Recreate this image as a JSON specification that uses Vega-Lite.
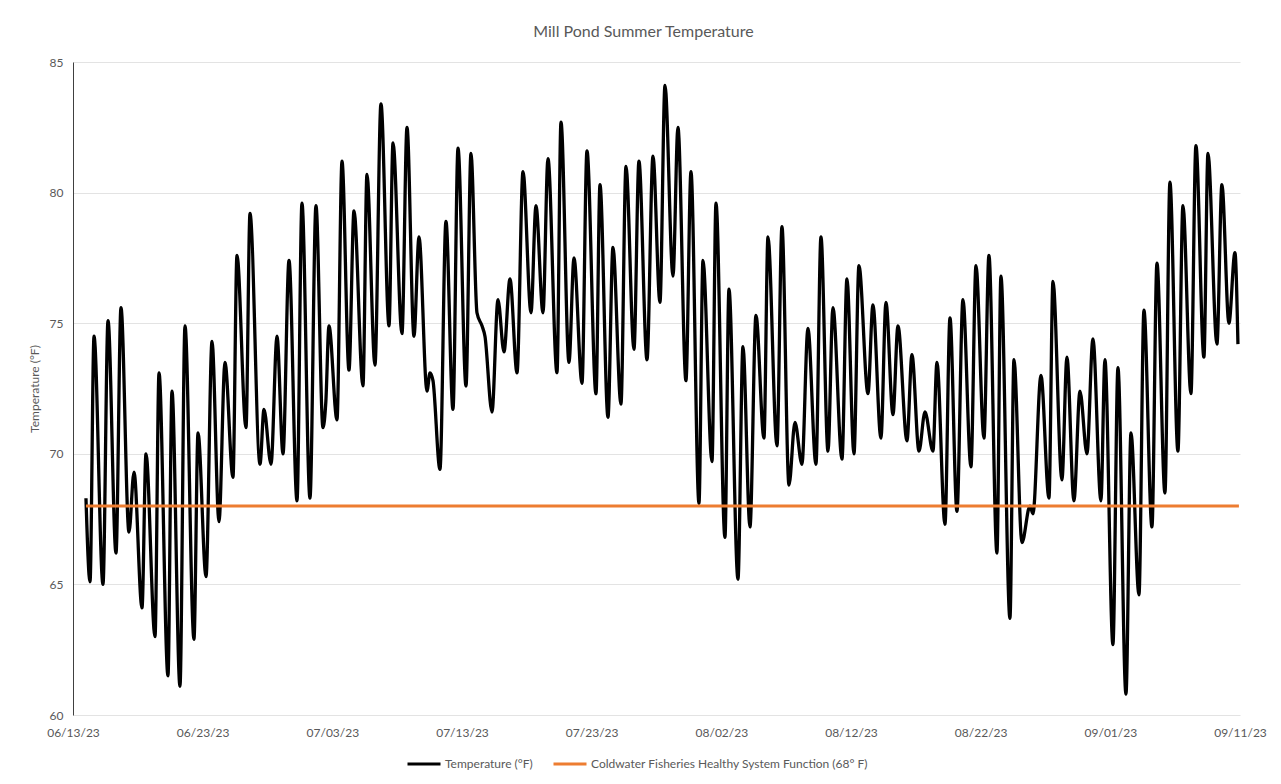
{
  "$schema": "https://vega.github.io/schema/vega-lite/v6.json",
  "width": 1167,
  "height": 653,
  "autosize": {"type": "none"},
  "padding": {"left": 73, "top": 62, "right": 41, "bottom": 69},
  "background": "white",
  "title": {"text": "Mill Pond Summer Temperature", "font": "Lato", "fontSize": 16, "fontWeight": "normal", "color": "#595959", "anchor": "middle", "offset": 16, "dx": -13},
  "config": {
    "view": {"stroke": null},
    "axis": {"labelFont": "Lato", "titleFont": "Lato", "labelColor": "#595959", "titleColor": "#595959"},
    "legend": {"labelFont": "Lato"}
  },
  "datasets": {
    "temp": [
      {"t":"2023-06-14T00:00","v":68.3},{"t":"2023-06-14T07:30","v":65.1},{"t":"2023-06-14T14:54","v":74.5},
      {"t":"2023-06-15T07:30","v":65.0},{"t":"2023-06-15T16:48","v":75.1},{"t":"2023-06-16T07:36","v":66.2},
      {"t":"2023-06-16T16:48","v":75.6},{"t":"2023-06-17T07:36","v":67.0},{"t":"2023-06-17T16:54","v":69.3},
      {"t":"2023-06-18T07:42","v":64.1},{"t":"2023-06-18T15:06","v":70.0},{"t":"2023-06-19T07:48","v":63.0},
      {"t":"2023-06-19T15:12","v":73.1},{"t":"2023-06-20T07:48","v":61.5},{"t":"2023-06-20T15:12","v":72.4},
      {"t":"2023-06-21T06:00","v":61.1},{"t":"2023-06-21T15:18","v":74.9},{"t":"2023-06-22T07:54","v":62.9},
      {"t":"2023-06-22T15:24","v":70.8},{"t":"2023-06-23T06:12","v":65.3},{"t":"2023-06-23T17:18","v":74.3},
      {"t":"2023-06-24T06:12","v":67.4},{"t":"2023-06-24T17:18","v":73.5},{"t":"2023-06-25T08:06","v":69.1},
      {"t":"2023-06-25T15:30","v":77.6},{"t":"2023-06-26T08:12","v":71.0},{"t":"2023-06-26T15:36","v":79.2},
      {"t":"2023-06-27T10:06","v":69.6},{"t":"2023-06-27T17:30","v":71.7},{"t":"2023-06-28T06:30","v":69.6},
      {"t":"2023-06-28T17:36","v":74.5},{"t":"2023-06-29T04:42","v":70.0},{"t":"2023-06-29T15:48","v":77.4},
      {"t":"2023-06-30T06:36","v":68.2},{"t":"2023-06-30T15:48","v":79.6},{"t":"2023-07-01T06:36","v":68.3},
      {"t":"2023-07-01T17:42","v":79.5},{"t":"2023-07-02T06:42","v":71.0},{"t":"2023-07-02T12:00","v":72.0},
      {"t":"2023-07-02T17:48","v":74.9},{"t":"2023-07-03T08:36","v":71.3},{"t":"2023-07-03T17:54","v":81.2},
      {"t":"2023-07-04T06:48","v":73.2},{"t":"2023-07-04T16:06","v":79.3},{"t":"2023-07-05T08:42","v":72.6},
      {"t":"2023-07-05T16:06","v":80.7},{"t":"2023-07-06T06:54","v":73.4},{"t":"2023-07-06T18:00","v":83.4},
      {"t":"2023-07-07T08:54","v":74.9},{"t":"2023-07-07T16:18","v":81.9},{"t":"2023-07-08T08:54","v":74.6},
      {"t":"2023-07-08T18:12","v":82.5},{"t":"2023-07-09T07:06","v":74.5},{"t":"2023-07-09T16:24","v":78.3},
      {"t":"2023-07-10T07:12","v":72.4},{"t":"2023-07-10T12:42","v":73.1},{"t":"2023-07-10T18:18","v":72.8},
      {"t":"2023-07-11T07:12","v":69.4},{"t":"2023-07-11T18:18","v":78.9},{"t":"2023-07-12T07:18","v":71.7},
      {"t":"2023-07-12T16:36","v":81.7},{"t":"2023-07-13T07:24","v":72.6},{"t":"2023-07-13T16:36","v":81.5},
      {"t":"2023-07-14T03:42","v":75.4},{"t":"2023-07-14T13:00","v":74.9},{"t":"2023-07-14T18:30","v":74.5},
      {"t":"2023-07-15T07:30","v":71.6},{"t":"2023-07-15T18:36","v":75.9},{"t":"2023-07-16T05:42","v":73.9},
      {"t":"2023-07-16T16:48","v":76.7},{"t":"2023-07-17T05:48","v":73.1},{"t":"2023-07-17T16:54","v":80.8},
      {"t":"2023-07-18T07:42","v":75.4},{"t":"2023-07-18T16:54","v":79.5},{"t":"2023-07-19T05:54","v":75.4},
      {"t":"2023-07-19T15:06","v":81.3},{"t":"2023-07-20T07:48","v":73.1},{"t":"2023-07-20T15:12","v":82.7},
      {"t":"2023-07-21T06:00","v":73.5},{"t":"2023-07-21T15:18","v":77.5},{"t":"2023-07-22T06:06","v":72.7},
      {"t":"2023-07-22T15:18","v":81.6},{"t":"2023-07-23T08:00","v":72.3},{"t":"2023-07-23T15:24","v":80.3},
      {"t":"2023-07-24T06:12","v":71.4},{"t":"2023-07-24T15:24","v":77.9},{"t":"2023-07-25T06:12","v":71.9},
      {"t":"2023-07-25T15:30","v":81.0},{"t":"2023-07-26T06:18","v":74.0},{"t":"2023-07-26T15:30","v":81.2},
      {"t":"2023-07-27T06:24","v":73.6},{"t":"2023-07-27T17:30","v":81.4},{"t":"2023-07-28T06:24","v":75.8},
      {"t":"2023-07-28T15:42","v":84.1},{"t":"2023-07-29T06:30","v":76.8},{"t":"2023-07-29T15:42","v":82.5},
      {"t":"2023-07-30T06:30","v":72.8},{"t":"2023-07-30T15:48","v":80.8},{"t":"2023-07-31T06:36","v":68.1},
      {"t":"2023-07-31T14:00","v":77.4},{"t":"2023-08-01T06:42","v":69.7},{"t":"2023-08-01T14:06","v":79.6},
      {"t":"2023-08-02T06:42","v":66.8},{"t":"2023-08-02T14:06","v":76.3},{"t":"2023-08-03T06:48","v":65.2},
      {"t":"2023-08-03T16:00","v":74.1},{"t":"2023-08-04T05:00","v":67.2},{"t":"2023-08-04T16:06","v":75.3},
      {"t":"2023-08-05T06:54","v":70.6},{"t":"2023-08-05T14:18","v":78.3},{"t":"2023-08-06T07:00","v":70.3},
      {"t":"2023-08-06T16:12","v":78.7},{"t":"2023-08-07T05:12","v":68.8},{"t":"2023-08-07T16:18","v":71.2},
      {"t":"2023-08-08T05:12","v":69.6},{"t":"2023-08-08T16:18","v":74.8},{"t":"2023-08-09T07:06","v":69.6},
      {"t":"2023-08-09T16:24","v":78.3},{"t":"2023-08-10T05:24","v":70.1},{"t":"2023-08-10T14:36","v":75.6},
      {"t":"2023-08-11T07:18","v":69.8},{"t":"2023-08-11T16:30","v":76.7},{"t":"2023-08-12T05:30","v":70.0},
      {"t":"2023-08-12T14:42","v":77.2},{"t":"2023-08-13T07:24","v":72.3},{"t":"2023-08-13T16:36","v":75.7},
      {"t":"2023-08-14T07:24","v":70.6},{"t":"2023-08-14T16:42","v":75.8},{"t":"2023-08-15T05:42","v":71.5},
      {"t":"2023-08-15T14:54","v":74.9},{"t":"2023-08-16T07:36","v":70.5},{"t":"2023-08-16T16:48","v":73.8},
      {"t":"2023-08-17T05:48","v":70.1},{"t":"2023-08-17T16:54","v":71.6},{"t":"2023-08-18T07:42","v":70.1},
      {"t":"2023-08-18T15:06","v":73.5},{"t":"2023-08-19T05:54","v":67.3},{"t":"2023-08-19T15:12","v":75.2},
      {"t":"2023-08-20T04:06","v":67.8},{"t":"2023-08-20T15:12","v":75.9},{"t":"2023-08-21T06:00","v":69.5},
      {"t":"2023-08-21T15:18","v":77.2},{"t":"2023-08-22T06:06","v":70.6},{"t":"2023-08-22T15:18","v":77.6},
      {"t":"2023-08-23T06:06","v":66.2},{"t":"2023-08-23T13:30","v":76.8},{"t":"2023-08-24T06:12","v":63.7},
      {"t":"2023-08-24T13:36","v":73.6},{"t":"2023-08-25T04:24","v":66.6},{"t":"2023-08-25T19:12","v":68.0},
      {"t":"2023-08-26T00:48","v":67.7},{"t":"2023-08-26T15:36","v":73.0},{"t":"2023-08-27T06:24","v":68.3},
      {"t":"2023-08-27T13:48","v":76.6},{"t":"2023-08-28T06:24","v":69.0},{"t":"2023-08-28T15:42","v":73.7},
      {"t":"2023-08-29T04:36","v":68.2},{"t":"2023-08-29T15:48","v":72.4},{"t":"2023-08-30T04:42","v":70.0},
      {"t":"2023-08-30T15:48","v":74.4},{"t":"2023-08-31T06:36","v":68.2},{"t":"2023-08-31T14:00","v":73.6},
      {"t":"2023-09-01T04:48","v":62.7},{"t":"2023-09-01T14:06","v":73.3},{"t":"2023-09-02T04:54","v":60.8},
      {"t":"2023-09-02T14:12","v":70.8},{"t":"2023-09-03T05:00","v":64.6},{"t":"2023-09-03T14:12","v":75.5},
      {"t":"2023-09-04T05:00","v":67.2},{"t":"2023-09-04T14:18","v":77.3},{"t":"2023-09-05T05:06","v":68.5},
      {"t":"2023-09-05T14:18","v":80.4},{"t":"2023-09-06T05:06","v":70.1},{"t":"2023-09-06T14:24","v":79.5},
      {"t":"2023-09-07T05:12","v":72.3},{"t":"2023-09-07T14:24","v":81.8},{"t":"2023-09-08T05:12","v":73.7},
      {"t":"2023-09-08T12:42","v":81.5},{"t":"2023-09-09T05:18","v":74.2},{"t":"2023-09-09T14:30","v":80.3},
      {"t":"2023-09-10T03:30","v":75.0},{"t":"2023-09-10T14:36","v":77.7},{"t":"2023-09-10T20:12","v":74.2}
    ],
    "threshold": [
      {"t":"2023-06-14T00:00","v":68},{"t":"2023-09-10T22:00","v":68}
    ]
  },
  "encoding": {
    "x": {
      "field": "t", "type": "temporal",
      "scale": {"domain": [{"year": 2023, "month": 6, "date": 13}, {"year": 2023, "month": 9, "date": 11}], "nice": false},
      "axis": {
        "title": null, "format": "%m/%d/%y", "labelFontSize": 12, "ticks": false, "domain": false, "grid": false,
        "labelPadding": 12, "labelOverlap": false, "labelFlush": false,
        "values": [
          {"year": 2023, "month": 6, "date": 13}, {"year": 2023, "month": 6, "date": 23},
          {"year": 2023, "month": 7, "date": 3}, {"year": 2023, "month": 7, "date": 13},
          {"year": 2023, "month": 7, "date": 23}, {"year": 2023, "month": 8, "date": 2},
          {"year": 2023, "month": 8, "date": 12}, {"year": 2023, "month": 8, "date": 22},
          {"year": 2023, "month": 9, "date": 1}, {"year": 2023, "month": 9, "date": 11}
        ]
      }
    },
    "y": {
      "field": "v", "type": "quantitative",
      "scale": {"domain": [60, 85], "nice": false, "zero": false},
      "axis": {
        "title": "Temperature (°F)", "titleFontSize": 12, "titleFontWeight": "normal", "titlePadding": 8,
        "values": [60, 65, 70, 75, 80, 85], "grid": true, "gridColor": "#E3E3E3", "gridWidth": 1,
        "domain": true, "domainColor": "#404040", "domainWidth": 1, "ticks": false,
        "labelPadding": 10, "labelFontSize": 12
      }
    }
  },
  "layer": [
    {
      "data": {"name": "temp"},
      "mark": {"type": "line", "interpolate": "monotone", "strokeWidth": 3.3},
      "encoding": {
        "color": {
          "datum": "Temperature (°F)",
          "scale": {"domain": ["Temperature (°F)", "Coldwater Fisheries Healthy System Function (68° F)"], "range": ["#000000", "#ED7D31"]},
          "legend": {
            "title": null, "orient": "none", "legendX": 333, "legendY": 684, "direction": "horizontal", "symbolType": "stroke",
            "symbolSize": 1089, "symbolStrokeWidth": 3, "labelFontSize": 12, "labelColor": "#595959",
            "columnPadding": 14, "labelOffset": 3, "labelLimit": 500
          }
        }
      }
    },
    {
      "data": {"name": "threshold"},
      "mark": {"type": "line", "strokeWidth": 3},
      "encoding": {
        "color": {"datum": "Coldwater Fisheries Healthy System Function (68° F)"}
      }
    }
  ]
}
